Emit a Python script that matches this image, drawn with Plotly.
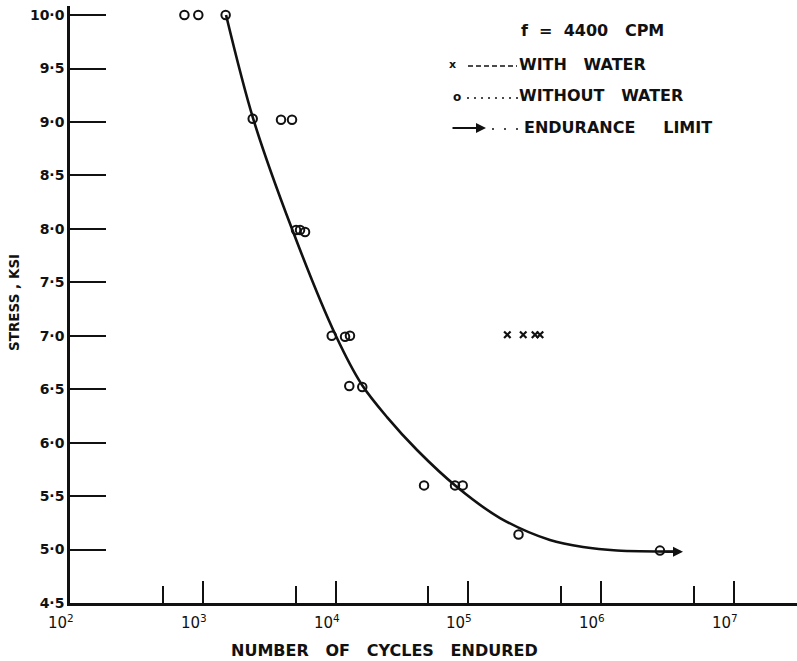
import math
import plotly.graph_objects as go

# ---------------- data ----------------
without_water_cycles = [727, 925, 1486, 2376, 3880, 4697, 5036, 5398, 5888,
                        9350, 11780, 12830, 12680, 15880, 46350, 79300, 90600,
                        238400, 2770000]
without_water_stress = [10.0, 10.0, 10.0, 9.03, 9.02, 9.02, 7.99, 7.99, 7.97,
                        7.0, 6.99, 7.0, 6.53, 6.52, 5.6, 5.6, 5.6,
                        5.14, 4.99]

with_water_cycles = [196400, 258700, 317500, 346000]
with_water_stress = [7.01, 7.01, 7.01, 7.01]

curve_cycles = [1496, 2388, 4699, 10070, 15810, 24380, 41020, 82030, 173000,
                411100, 729500, 1315000, 3724000]
curve_stress = [10.0, 9.036, 7.998, 6.997, 6.539, 6.239, 5.931, 5.585, 5.295,
                5.089, 5.023, 4.991, 4.981]

endurance_from_cycles = 2770000
endurance_to_cycles = 4130000
endurance_stress = 4.98

y_tick_values = [4.5, 5.0, 5.5, 6.0, 6.5, 7.0, 7.5, 8.0, 8.5, 9.0, 9.5, 10.0]
y_tick_labels = ["4·5", "5·0", "5·5", "6·0", "6·5", "7·0", "7·5", "8·0",
                 "8·5", "9·0", "9·5", "10·0"]
x_major_ticks = [1e3, 1e4, 1e5, 1e6, 1e7]
x_minor_ticks = [5e2, 5e3, 5e4, 5e5, 5e6]
x_label_exponents = [2, 3, 4, 5, 6, 7]

title_text = "f\u00a0\u00a0=\u00a0\u00a04400\u00a0\u00a0\u00a0CPM"
legend_labels = ["WITH\u00a0\u00a0\u00a0WATER", "WITHOUT\u00a0\u00a0\u00a0WATER",
                 "ENDURANCE\u00a0\u00a0\u00a0\u00a0\u00a0LIMIT"]
x_title = "NUMBER\u00a0\u00a0\u00a0OF\u00a0\u00a0\u00a0CYCLES\u00a0\u00a0\u00a0ENDURED"
y_title = "STRESS , KSI"

# ---------------- layout geometry ----------------
W, H = 797, 661
ML, MR, MT, MB = 70, 0, 6, 58
PW, PH = W - ML - MR, H - MT - MB
DEC = 132.8           # px per decade
UNIT = 106.9          # px per ksi

def px(xp):
    return (xp - ML) / PW

def py(yp):
    return (H - MB - yp) / PH

FONT = "DejaVu Sans"
BLACK = "#111111"

fig = go.Figure()

fig.add_trace(go.Scatter(
    x=curve_cycles, y=curve_stress, mode="lines",
    line=dict(color=BLACK, width=2.6, shape="spline", smoothing=0.9),
    hoverinfo="skip", showlegend=False))

fig.add_trace(go.Scatter(
    x=without_water_cycles, y=without_water_stress, mode="markers",
    marker=dict(symbol="circle-open", size=8.5, color=BLACK,
                line=dict(width=2, color=BLACK)),
    showlegend=False))

fig.add_trace(go.Scatter(
    x=with_water_cycles, y=with_water_stress, mode="markers",
    marker=dict(symbol="x-thin", size=6.5, color=BLACK,
                line=dict(width=2.2, color=BLACK)),
    showlegend=False))

annotations = []
# endurance limit arrow on the curve
annotations.append(dict(
    x=math.log10(endurance_to_cycles), y=endurance_stress,
    ax=math.log10(endurance_from_cycles), ay=endurance_stress,
    xref="x", yref="y", axref="x", ayref="y",
    showarrow=True, arrowhead=2, arrowsize=1, arrowwidth=2,
    arrowcolor=BLACK, text="", standoff=0, startstandoff=4))

# x tick labels
for e in x_label_exponents:
    annotations.append(dict(
        x=e, y=0, xref="x", yref="paper",
        text="10<sup>%d</sup>" % e, showarrow=False,
        xanchor="right", yanchor="middle", xshift=6, yshift=-19,
        font=dict(family=FONT, size=15, color=BLACK)))

# axis titles
annotations.append(dict(
    x=px(384), y=py(650), xref="paper", yref="paper", text=x_title,
    showarrow=False, xanchor="center", yanchor="middle",
    font=dict(family=FONT, size=16, color=BLACK, weight="bold")))
annotations.append(dict(
    x=px(14), y=py(303), xref="paper", yref="paper", text=y_title,
    showarrow=False, xanchor="center", yanchor="middle", textangle=-90,
    font=dict(family=FONT, size=13.5, color=BLACK, weight="bold")))

# legend block
annotations.append(dict(
    x=px(519), y=py(31), xref="paper", yref="paper", text=title_text,
    showarrow=False, xanchor="left", yanchor="middle",
    font=dict(family=FONT, size=16, color=BLACK, weight="bold")))
annotations.append(dict(
    x=px(452), y=py(65), xref="paper", yref="paper", text="x",
    showarrow=False, xanchor="center", yanchor="middle",
    font=dict(family=FONT, size=11, color=BLACK, weight="bold")))
annotations.append(dict(
    x=px(457), y=py(97), xref="paper", yref="paper", text="o",
    showarrow=False, xanchor="center", yanchor="middle",
    font=dict(family=FONT, size=12, color=BLACK, weight="bold")))
for label, xp, yp in zip(legend_labels, [517, 517, 522], [64, 96, 127]):
    annotations.append(dict(
        x=px(xp), y=py(yp), xref="paper", yref="paper", text=label,
        showarrow=False, xanchor="left", yanchor="middle",
        font=dict(family=FONT, size=16, color=BLACK, weight="bold")))
annotations.append(dict(
    x=px(486), y=py(128), xref="paper", yref="paper",
    ax=-35, ay=0, text="", showarrow=True, arrowhead=2, arrowsize=1,
    arrowwidth=2, arrowcolor=BLACK, standoff=0))

shapes = [
    dict(type="line", xref="paper", yref="paper",
         x0=px(468), x1=px(517), y0=py(66), y1=py(66),
         line=dict(color=BLACK, width=1.6, dash="5px,3px")),
    dict(type="line", xref="paper", yref="paper",
         x0=px(467), x1=px(518), y0=py(98), y1=py(98),
         line=dict(color=BLACK, width=1.6, dash="2px,5px")),
    dict(type="line", xref="paper", yref="paper",
         x0=px(492), x1=px(521), y0=py(129), y1=py(129),
         line=dict(color=BLACK, width=1.6, dash="2px,10px")),
]

fig.update_layout(
    width=W, height=H,
    margin=dict(l=ML, r=MR, t=MT, b=MB, pad=0),
    paper_bgcolor="white", plot_bgcolor="white",
    showlegend=False,
    font=dict(family=FONT, color=BLACK),
    annotations=annotations, shapes=shapes,
    xaxis=dict(
        type="log", range=[2, 2 + PW / DEC],
        showgrid=False, zeroline=False,
        showline=True, linecolor=BLACK, linewidth=2.5,
        tickmode="array", tickvals=x_major_ticks, showticklabels=False,
        ticks="inside", ticklen=22, tickwidth=2, tickcolor=BLACK,
        minor=dict(tickmode="array", tickvals=x_minor_ticks, ticks="inside",
                   ticklen=17, tickwidth=2, tickcolor=BLACK, showgrid=False),
    ),
    yaxis=dict(
        range=[4.5, 4.5 + PH / UNIT],
        showgrid=False, zeroline=False,
        showline=True, linecolor=BLACK, linewidth=2.5,
        tickmode="array", tickvals=y_tick_values, ticktext=y_tick_labels,
        ticks="inside", ticklen=36, tickwidth=2, tickcolor=BLACK,
        ticklabelstandoff=0,
        tickfont=dict(family=FONT, size=14, color=BLACK, weight="bold"),
    ),
)

fig.write_html(
    "out.html",
    config={"displayModeBar": False},
    post_script="document.body.style.margin='0';"
                "document.body.style.overflow='hidden';")
